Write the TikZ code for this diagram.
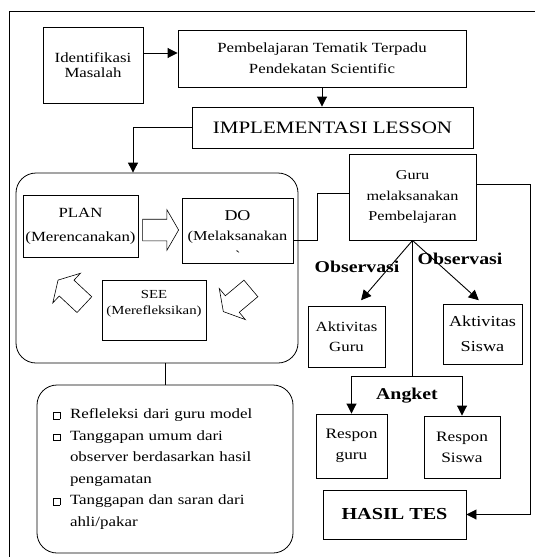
\documentclass[tikz,border=0pt]{standalone}
\usepackage{fontspec}
\setmainfont{Liberation Serif}[FakeStretch=1.2]
\usetikzlibrary{arrows.meta,positioning,shapes.arrows}
\newcommand{\bsq}{{\setlength{\fboxsep}{0pt}\setlength{\fboxrule}{0.6pt}\fbox{\rule{0pt}{6pt}\rule{6pt}{0pt}}}}
\newcommand{\bitem}{\makebox[17pt][l]{\bsq}}
\newcommand{\bcont}{\hspace*{17pt}}

\begin{document}
\begin{tikzpicture}[x=1pt, y=-1pt,
box/.style={draw, line width=0.9pt, align=center, inner sep=0pt},
roundbox/.style={draw, line width=0.8pt, rounded corners=20pt, inner sep=0pt},
hollow/.style={single arrow, draw, line width=0.6pt, inner xsep=0pt, inner ysep=10.5pt, minimum height=36pt, single arrow head extend=9.5pt, single arrow tip angle=120},
lbl/.style={font=\bfseries\fontsize{16.5}{18}\selectfont, inner sep=0pt},
arrow/.style={-{Triangle[length=10pt,width=10pt]}, line width=0.9pt}
]
\useasboundingbox (0,0) rectangle (535,557);
\draw[line width=0.9pt] (9,557) -- (9,11) -- (535,11);

\node[box, minimum width=100, minimum height=76, font=\fontsize{14}{15}\selectfont] (ident) at (93,65) {Identifikasi\\Masalah};
\node[box, minimum width=288, minimum height=57, font=\fontsize{14}{21}\selectfont] (tematik) at (322,58.5) {Pembelajaran Tematik Terpadu\\Pendekatan Scientific};
\node[box, minimum width=281, minimum height=41, font=\fontsize{17.5}{20}\selectfont] (impl) at (332.5,127.5) {IMPLEMENTASI LESSON};

% siklus lesson study
\node[roundbox, minimum width=282, minimum height=190] (cycle) at (157,268) {};
\node[box, minimum width=115, minimum height=62, font=\fontsize{14}{24}\selectfont] (plan) at (80.5,226) {PLAN\\(Merencanakan)};
\node[box, minimum width=111, minimum height=65, font=\fontsize{13.6}{20}\selectfont] (do) at (237.5,230.5) {\mbox{}\\{\fontsize{15}{20}\selectfont DO}\\(Melaksanakan\\\textasciigrave};
\node[box, minimum width=104, minimum height=60, font=\fontsize{12.3}{16}\selectfont] (see) at (154,310) {SEE\\(Merefleksikan)\\\mbox{}};
\node[hollow] (planArrow) at (157.5,230) {};
\node[hollow, rotate=220] (doArrow) at (239.5,298) {};
\node[hollow, rotate=137] (seeArrow) at (73.5,294.5) {};

\node[roundbox, minimum width=256, minimum height=168, text width=224, align=left, font=\fontsize{14.1}{21.5}\selectfont] (refleksi) at (165,469) {\bitem Refleleksi dari guru model\\\bitem Tanggapan umum dari\\\bcont observer berdasarkan hasil\\\bcont pengamatan\\\bitem Tanggapan dan saran dari\\\bcont ahli/pakar};

% pengamatan
\node[box, minimum width=127, minimum height=86, font=\fontsize{13.5}{20.5}\selectfont] (guru) at (412.5,197) {Guru\\melaksanakan\\Pembelajaran};
\node[box, minimum width=77, minimum height=61, font=\fontsize{14}{20}\selectfont] (aktGuru) at (346.5,336.5) {Aktivitas\\Guru};
\node[box, minimum width=79, minimum height=60, font=\fontsize{15.2}{25}\selectfont] (aktSiswa) at (482.5,334) {Aktivitas\\Siswa};
\node[box, minimum width=71, minimum height=64, font=\fontsize{14.4}{21}\selectfont] (resGuru) at (351.5,446) {Respon\\guru};
\node[box, minimum width=76, minimum height=62, font=\fontsize{14.4}{21}\selectfont] (resSiswa) at (462,447) {Respon\\Siswa};
\node[box, minimum width=143, minimum height=49, font=\bfseries\fontsize{16.8}{18}\selectfont] (hasil) at (394.5,514.5) {HASIL TES};

\node[lbl] (obsGuru) at (357,267) {Observasi};
\node[lbl] (obsSiswa) at (460,259) {Observasi};
\node[lbl] (angket) at (407,396) {Angket};
\coordinate (split) at (412.5,376);

\draw[arrow] ([yshift=12]ident.east) -- ([yshift=12]ident.east -| tematik.west);
\draw[arrow] (tematik.south) -- (tematik.south |- impl.north);
\draw[arrow] (impl.west) -| ([xshift=-24]cycle.north);
\draw[line width=0.9pt] ([yshift=-9.5]do.east) -- ++(24,0) |- ([yshift=4]guru.west);
\draw[arrow] ([yshift=13]guru.east) -- ++(54,0) |- (hasil.east);
\draw[arrow, shorten >=7pt] (guru.south) -- ([xshift=10]aktGuru.north);
\draw[arrow, shorten >=5pt] (guru.south) -- (aktSiswa.north);
\draw[line width=0.9pt] (guru.south) -- (split);
\draw[arrow] (split) -| (resGuru.north);
\draw[arrow] (split) -| (resSiswa.north);
\draw[line width=0.9pt] (refleksi.north |- cycle.south) -- (refleksi.north);
\end{tikzpicture}
\end{document}
